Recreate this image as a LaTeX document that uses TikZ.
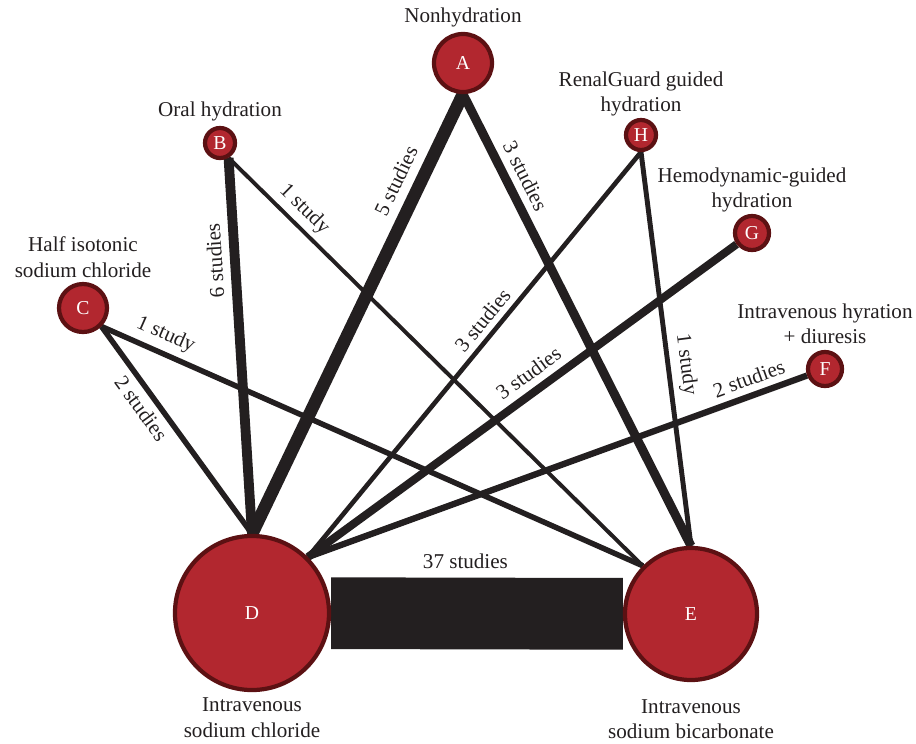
\documentclass[tikz,border=0pt]{standalone}
\usepackage{fontspec}
\setmainfont{Liberation Serif}
\usetikzlibrary{positioning, backgrounds}
\definecolor{trtred}{HTML}{B2272F}
\definecolor{trtrim}{HTML}{5C1113}
\definecolor{ink}{HTML}{231F20}
\tikzstyle{trt} = [draw=trtrim, fill=trtred, circle, line width=3pt,
    inner sep=0pt, text=white, font=\fontsize{14}{14}\selectfont]
\tikzstyle{trtname} = [align=center, inner sep=1pt, text=ink,
    font=\fontsize{15}{18}\selectfont]
\tikzstyle{edgeline} = [draw=ink]
\tikzstyle{studies} = [sloped, inner sep=1pt, outer sep=0pt, text=ink,
    font=\fontsize{15}{15}\selectfont]

\begin{document}
\begin{tikzpicture}[x=0.025cm, y=0.025cm]
        \useasboundingbox (0,0) rectangle (916,-744);

        \node[trt, minimum size=1.45cm](A) at (463,-63){A};
        \node[trt, minimum size=0.75cm](B) at (220,-143){B};
        \node[trt, minimum size=1.2cm](C) at (83,-308){C};
        \node[trt, minimum size=3.85cm](D) at (252,-613){D};
        \node[trt, minimum size=3.3cm](E) at (691,-614){E};
        \node[trt, minimum size=0.85cm](F) at (825,-369){F};
        \node[trt, minimum size=0.85cm](G) at (752,-233){G};
        \node[trt, minimum size=0.75cm](H) at (641,-135){H};

        \node[trtname, above=2pt of A](Atxt){Nonhydration};
        \node[trtname, above=2pt of B](Btxt){Oral hydration};
        \node[trtname, above=2pt of C](Ctxt){Half isotonic\\sodium chloride};
        \node[trtname, above=0pt of H](Htxt){RenalGuard guided\\hydration};
        \node[trtname, above=0pt of G](Gtxt){Hemodynamic-guided\\hydration};
        \node[trtname, above=3pt of F](Ftxt){Intravenous hyration\\+ diuresis};
        \node[trtname, below=3pt of D](Dtxt){Intravenous\\sodium chloride};
        \node[trtname, below=11pt of E](Etxt){Intravenous\\sodium bicarbonate};

        \begin{scope}[on background layer]
            \draw[edgeline, line width=51pt] (D) -- node[studies, above=31pt, pos=0.46]{37 studies} (E);
            \draw[edgeline, line width=9pt] (A.south) -- node[studies, above=10pt, pos=0.22]{5 studies} (D.north);
            \draw[edgeline, line width=6.4pt] (A.south) -- node[studies, above=7.2pt, pos=0.2]{3 studies} (E.north);
            \draw[edgeline, line width=7pt] (D.north) -- node[studies, allow upside down, above=8pt, pos=0.73]{6 studies} (B.-60);
            \draw[edgeline, line width=2.8pt] (B.-60) -- node[studies, above=3.9pt, pos=0.155]{1 study} (E.north west);
            \draw[edgeline, line width=3.9pt] (C.south east) -- node[studies, below=5pt, pos=0.35]{2 studies} (D.north);
            \draw[edgeline, line width=3.9pt] (C.south east) -- node[studies, above=5pt, pos=0.105]{1 study} (E.north west);
            \draw[edgeline, line width=3.3pt] (H.south) -- node[studies, above=4.7pt, pos=0.44]{3 studies} (D.north east);
            \draw[edgeline, line width=3.5pt] (H.south) -- node[studies, above=4.75pt, pos=0.545]{1 study} (E.north);
            \draw[edgeline, line width=5.7pt] (G) -- node[studies, above=6.9pt, pos=0.46]{3 studies} (D.north east);
            \draw[edgeline, line width=4.5pt] (F) -- node[studies, above=5.75pt, pos=0.105]{2 studies} (D.north east);
        \end{scope}
    \end{tikzpicture}
\end{document}
